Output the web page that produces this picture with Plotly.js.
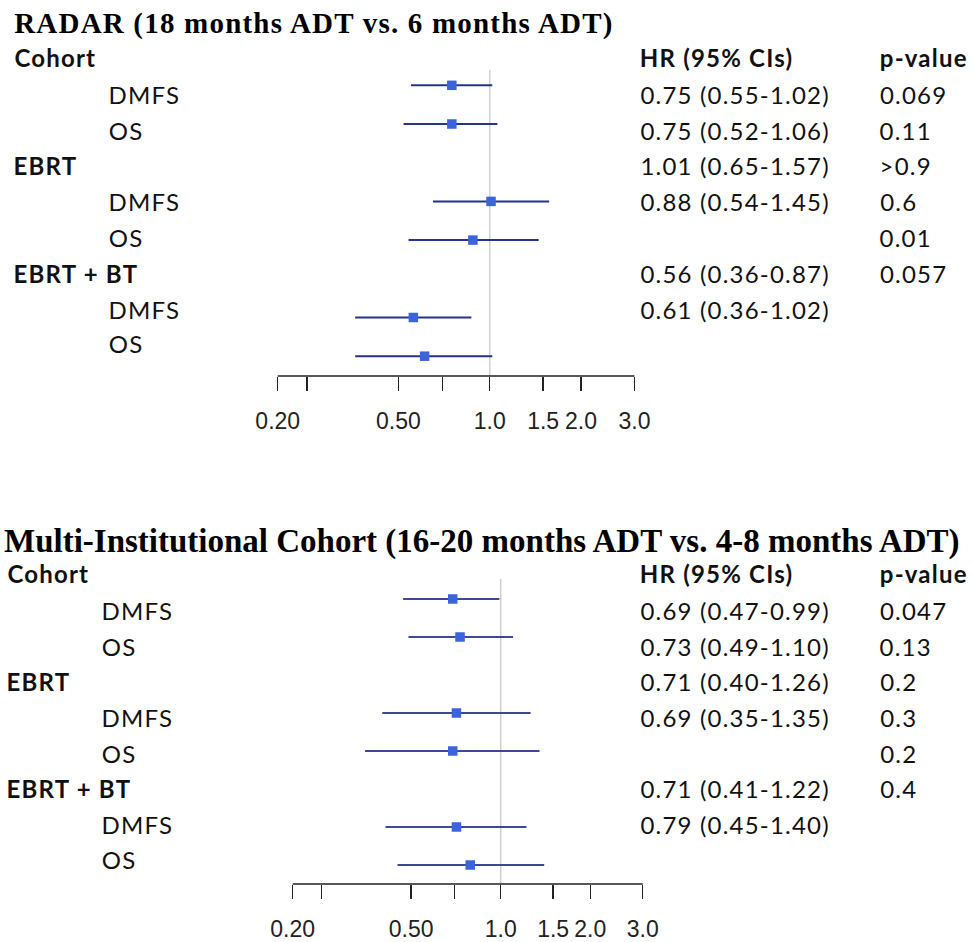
<!DOCTYPE html>
<html>
<head>
<meta charset="utf-8">
<script src="https://cdn.plot.ly/plotly-3.0.1.min.js"></script>
<style>
html,body{margin:0;padding:0;background:#fff;}
#chart{width:973px;height:942px;}
#chart .annotation-text{letter-spacing:1.2px;}
</style>
</head>
<body>
<div id="chart"></div>
<script>
// ---------- DATA ----------
const categoryOrder = ["Cohort DMFS","Cohort OS","EBRT","EBRT DMFS","EBRT OS","EBRT + BT","EBRT + BT DMFS","EBRT + BT OS"];
const plotRows = ["Cohort DMFS","Cohort OS","EBRT DMFS","EBRT OS","EBRT + BT DMFS","EBRT + BT OS"];

const rowLabels = ["Cohort","DMFS","OS","EBRT","DMFS","OS","EBRT + BT","DMFS","OS"];
const headerLabels = ["Cohort","EBRT","EBRT + BT"];

const radarTitle = "RADAR (18 months ADT vs. 6 months ADT)";
const radarHR = [0.75, 0.75, 1.01, 0.88, 0.56, 0.61];
const radarLo = [0.55, 0.52, 0.65, 0.54, 0.36, 0.36];
const radarHi = [1.02, 1.06, 1.57, 1.45, 0.87, 1.02];
const radarHRText = ["0.75 (0.55-1.02)","0.75 (0.52-1.06)","1.01 (0.65-1.57)","0.88 (0.54-1.45)","","0.56 (0.36-0.87)","0.61 (0.36-1.02)",""];
const radarPText = ["0.069","0.11",">0.9","0.6","0.01","0.057","",""];

const multiTitle = "Multi-Institutional Cohort (16-20 months ADT vs. 4-8 months ADT)";
const multiHR = [0.69, 0.73, 0.71, 0.69, 0.71, 0.79];
const multiLo = [0.47, 0.49, 0.40, 0.35, 0.41, 0.45];
const multiHi = [0.99, 1.10, 1.26, 1.35, 1.22, 1.40];
const multiHRText = ["0.69 (0.47-0.99)","0.73 (0.49-1.10)","0.71 (0.40-1.26)","0.69 (0.35-1.35)","","0.71 (0.41-1.22)","0.79 (0.45-1.40)",""];
const multiPText = ["0.047","0.13","0.2","0.3","0.2","0.4","",""];

const colHeaderHR = "HR (95% CIs)";
const colHeaderP = "p-value";

const tickVals = [0.2, 0.25, 0.5, 0.7, 1.0, 1.5, 2.0, 3.0];
const tickText = ["0.20", "", "0.50", "", "1.0", "1.5", "2.0", "3.0"];

// ---------- LAYOUT HELPERS ----------
const W = 973, H = 942;
const LS = 1.2; // css letter spacing (px) applied to annotation text
const px = x => x / W;
const py = y => 1 - y / H;

const textFont = {family: "Lato, 'Noto Sans', sans-serif", size: 24, color: "#111"};
const boldFont = {family: "Lato, 'Noto Sans', sans-serif", size: 24, color: "#111", weight: 700};

// left-anchored label; the extra CSS letter spacing is centred by the browser, so shift by half of it
function label(text, x, y, font, bold, ls) {
  const spacing = (ls === undefined) ? LS : ls;
  return {text: bold ? "<b>" + text + "</b>" : text,
    x: px(x + text.length * spacing / 2), y: py(y), xref: "paper", yref: "paper",
    xanchor: "left", yanchor: "middle", showarrow: false, font: font};
}

function panel(cfg) {
  const traces = [{
    type: "scatter", mode: "markers",
    x: cfg.hr, y: plotRows,
    xaxis: cfg.xa, yaxis: cfg.ya,
    marker: {symbol: "square", size: 9.5, color: "#3a63dc", line: {width: 0}},
    error_x: {type: "data", symmetric: false,
      array: cfg.hr.map((v, i) => cfg.hi[i] - v),
      arrayminus: cfg.hr.map((v, i) => v - cfg.lo[i]),
      width: 0, thickness: 2, color: cfg.ciColor},
    hoverinfo: "skip", showlegend: false
  }];
  const ann = [];
  ann.push(label(cfg.title, cfg.titleX, cfg.titleY,
    {family: "'Liberation Serif', 'Times New Roman', serif", size: cfg.titleSize, color: "#000"}, true, cfg.titleLS));
  rowLabels.forEach((lab, i) => {
    const isHead = headerLabels.includes(lab);
    ann.push(label(lab, isHead ? cfg.headX : cfg.subX, cfg.rowY[i], isHead ? boldFont : textFont, isHead));
  });
  ann.push(label(colHeaderHR, cfg.hrX, cfg.rowY[0], boldFont, true));
  ann.push(label(colHeaderP, cfg.pX, cfg.rowY[0], boldFont, true));
  cfg.hrText.forEach((t, i) => { if (t) ann.push(label(t, cfg.hrX, cfg.rowY[i + 1], textFont, false)); });
  cfg.pText.forEach((t, i) => { if (t) ann.push(label(t, cfg.pX, cfg.rowY[i + 1], textFont, false)); });

  const shapes = [
    {type: "line", xref: cfg.xa, yref: "paper", x0: 1, x1: 1, y0: py(cfg.axisY), y1: py(cfg.refTop),
      line: {color: "#cfcfcf", width: 1.5}, layer: "below"},
    {type: "line", xref: cfg.xa, yref: "paper", x0: tickVals[0], x1: tickVals[tickVals.length - 1],
      y0: py(cfg.axisY), y1: py(cfg.axisY), line: {color: "#222", width: 1.5}}
  ];
  const xaxis = {type: "log", domain: [0, 1], range: cfg.xrange, anchor: cfg.ya,
    tickvals: tickVals, ticktext: tickText, ticks: "outside", ticklen: 14, tickwidth: 1.5, tickcolor: "#222",
    tickangle: 0, ticklabelstandoff: 10,
    tickfont: {family: "'Liberation Sans', Arial, sans-serif", size: 23, color: "#222"},
    showgrid: false, zeroline: false, showline: false, fixedrange: true};
  const yaxis = {type: "category", categoryorder: "array", categoryarray: categoryOrder,
    domain: [py(cfg.axisY), py(cfg.domTop)], range: cfg.yrange, anchor: cfg.xa,
    visible: false, showgrid: false, zeroline: false, fixedrange: true};
  return {traces, ann, shapes, xaxis, yaxis};
}

const topRowY = [58, 95, 131, 166, 202, 238, 273, 309, 344];
const botRowY = topRowY.map(v => v + 515);

const radarPanel = panel({
  title: radarTitle, titleX: 12, titleY: 24, titleSize: 29, titleLS: LS,
  hr: radarHR, lo: radarLo, hi: radarHi, hrText: radarHRText, pText: radarPText,
  ciColor: "#27338a", xa: "x", ya: "y",
  rowY: topRowY, headX: 12, subX: 107, hrX: 638, pX: 878,
  axisY: 376, refTop: 70, domTop: 60,
  xrange: [-1.6146, 1.5934], yrange: [7.512, -0.654]
});
const multiPanel = panel({
  title: multiTitle, titleX: 2, titleY: 541, titleSize: 33, titleLS: 0,
  hr: multiHR, lo: multiLo, hi: multiHi, hrText: multiHRText, pText: multiPText,
  ciColor: "#3c489b", xa: "x2", ya: "y2",
  rowY: botRowY, headX: 5, subX: 100, hrX: 638, pX: 878,
  axisY: 884, refTop: 579, domTop: 570,
  xrange: [-1.6825, 1.587], yrange: [7.5, -0.763]
});

// the second title keeps its natural letter spacing
const multiTitleIndex = radarPanel.ann.length;
const st = document.createElement("style");
st.textContent = '#chart g.annotation[data-index="' + multiTitleIndex + '"] .annotation-text{letter-spacing:0;}';
document.head.appendChild(st);

const layout = {
  width: W, height: H, margin: {l: 0, r: 0, t: 0, b: 0},
  paper_bgcolor: "#fff", plot_bgcolor: "rgba(0,0,0,0)",
  showlegend: false,
  xaxis: radarPanel.xaxis, yaxis: radarPanel.yaxis, xaxis2: multiPanel.xaxis, yaxis2: multiPanel.yaxis,
  annotations: radarPanel.ann.concat(multiPanel.ann),
  shapes: radarPanel.shapes.concat(multiPanel.shapes)
};

Plotly.newPlot("chart", radarPanel.traces.concat(multiPanel.traces), layout, {staticPlot: true, displayModeBar: false});
</script>
</body>
</html>
